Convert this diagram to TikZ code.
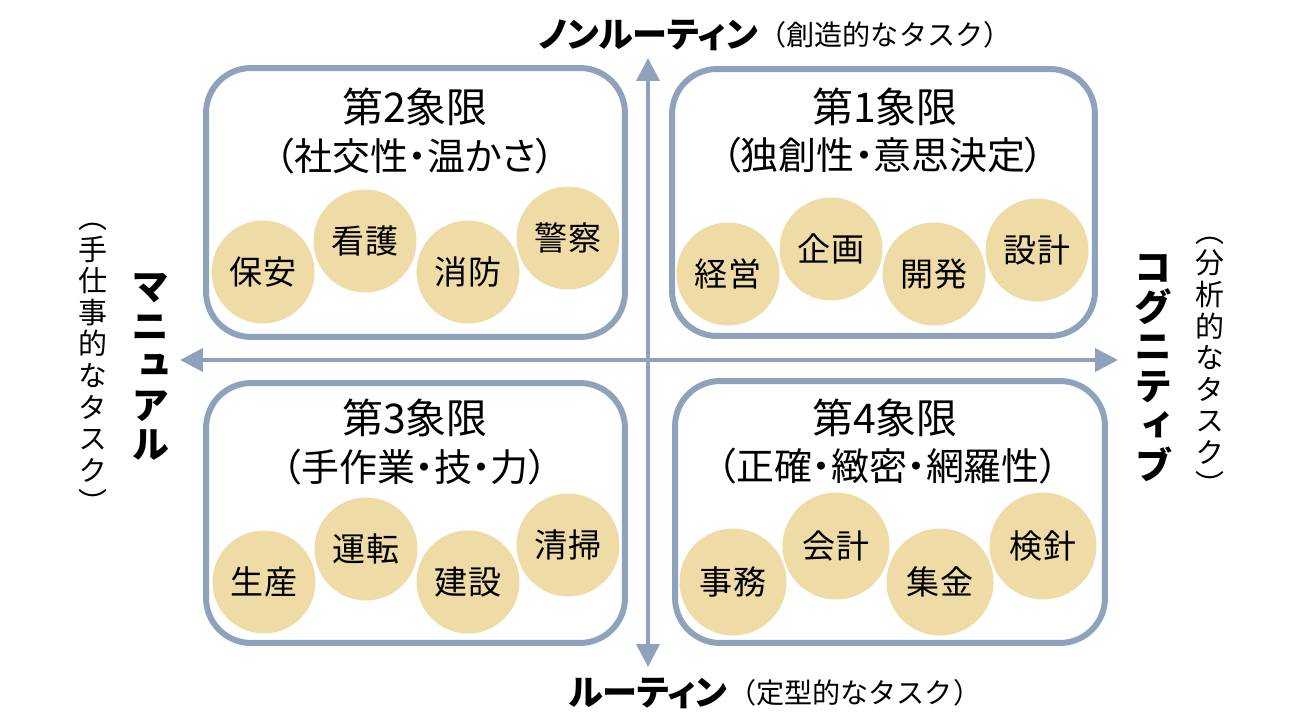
\documentclass[tikz,border=0pt]{standalone}
\usepackage{fontspec}
\setmainfont{Noto Sans CJK JP}
\newfontfamily\jpp{Noto Sans CJK JP}[RawFeature=+palt]
\newfontfamily\jpv{Noto Sans CJK JP}[RawFeature=+vert]
\usetikzlibrary{arrows.meta,positioning}
\definecolor{axisblue}{RGB}{143,162,188}
\definecolor{jobtan}{RGB}{239,219,165}

\begin{document}
\begin{tikzpicture}[x=0.02cm,y=-0.02cm,
  quad/.style={draw=axisblue,line width=3.4pt,rounded corners=0.9cm,inner sep=0pt},
  job/.style={circle,fill=jobtan,minimum size=2.06cm,inner sep=0pt,font=\fontsize{18.8pt}{20pt}\selectfont},
  ttl/.style={inner sep=0pt,font=\jpp\fontsize{23.3pt}{26pt}\selectfont},
  sub/.style={inner sep=0pt,font=\jpp\fontsize{21.6pt}{24pt}\selectfont},
  hbold/.style={inner sep=0pt,font=\jpp\bfseries\fontsize{20pt}{24pt}\selectfont},
  hsub/.style={inner sep=0pt,font=\fontsize{16pt}{18pt}\selectfont},
  vbold/.style={inner sep=0pt,align=center,font=\jpv\bfseries\fontsize{21.6pt}{22.5pt}\selectfont},
  vsub/.style={inner sep=0pt,align=center,font=\jpv\fontsize{16.5pt}{18pt}\selectfont},
  axis/.style={draw=axisblue,line width=2.3pt,{Triangle[width=0.46cm,length=0.46cm]}-{Triangle[width=0.46cm,length=0.46cm]}}]
\useasboundingbox (0,0) rectangle (1300,720);

\node[quad,minimum width=8.38cm,minimum height=5.38cm] (q2) at (415.5,202.5) {};
\node[quad,minimum width=8.46cm,minimum height=5.34cm] (q1) at (883.5,202.5) {};
\node[quad,minimum width=8.38cm,minimum height=5.2cm] (q3) at (415.5,513) {};
\node[quad,minimum width=8.6cm,minimum height=5.24cm] (q4) at (890,512) {};

\coordinate (top) at (648,58);
\coordinate (bot) at (648,667);
\coordinate (lft) at (180,360);
\coordinate (rgt) at (1118,360);
\draw[axis] (bot) -- (top);
\draw[axis] (lft) -- (rgt);

\node[ttl] (t2) at (415,107) {第2象限};
\node[sub] (s2) at (415,156) {（社交性・温かさ）};
\node[ttl] (t1) at (885,107) {第1象限};
\node[sub] (s1) at (883,155) {（独創性・意思決定）};
\node[ttl] (t3) at (415,418) {第3象限};
\node[sub] (s3) at (415,467) {（手作業・技・力）};
\node[ttl] (t4) at (885,418) {第4象限};
\node[sub] (s4) at (888,466) {（正確・緻密・網羅性）};

\node[job] (hoan) at (263,272) {保安};
\node[job] (kango) at (365,241) {看護};
\node[job] (shobo) at (468,272) {消防};
\node[job] (keisatsu) at (568,238) {警察};

\node[job] (keiei) at (728,274) {経営};
\node[job] (kikaku) at (831,249) {企画};
\node[job] (kaihatsu) at (934,274) {開発};
\node[job] (sekkei) at (1037,250) {設計};

\node[job] (seisan) at (264,582) {生産};
\node[job] (unten) at (366,549) {運転};
\node[job] (kensetsu) at (468,582) {建設};
\node[job] (seiso) at (568,545) {清掃};

\node[job,minimum size=2.14cm] (jimu) at (733,582) {事務};
\node[job,minimum size=2.14cm] (kaikei) at (836,546) {会計};
\node[job,minimum size=2.14cm] (shukin) at (940,582) {集金};
\node[job,minimum size=2.14cm] (kenshin) at (1043,546) {検針};

\node[hbold] (nrt) at (648,35) {ノンルーティン};
\node[hsub,right=0pt of nrt] (nrtsub) {（創造的なタスク）};
\node[hbold] (rt) at (648,693) {ルーティン};
\node[hsub,right=0pt of rt] (rtsub) {（定型的なタスク）};

\node[vbold] (manual) at (150,367) {マ\\ニ\\ュ\\ア\\ル};
\node[vsub] (manualsub) at (93,368) {（\\手\\仕\\事\\的\\な\\タ\\ス\\ク\\）};
\node[vbold] (cogn) at (1153,368) {コ\\グ\\ニ\\テ\\ィ\\ブ};
\node[vsub] (cognsub) at (1210,366) {（\\分\\析\\的\\な\\タ\\ス\\ク\\）};
\end{tikzpicture}
\end{document}
